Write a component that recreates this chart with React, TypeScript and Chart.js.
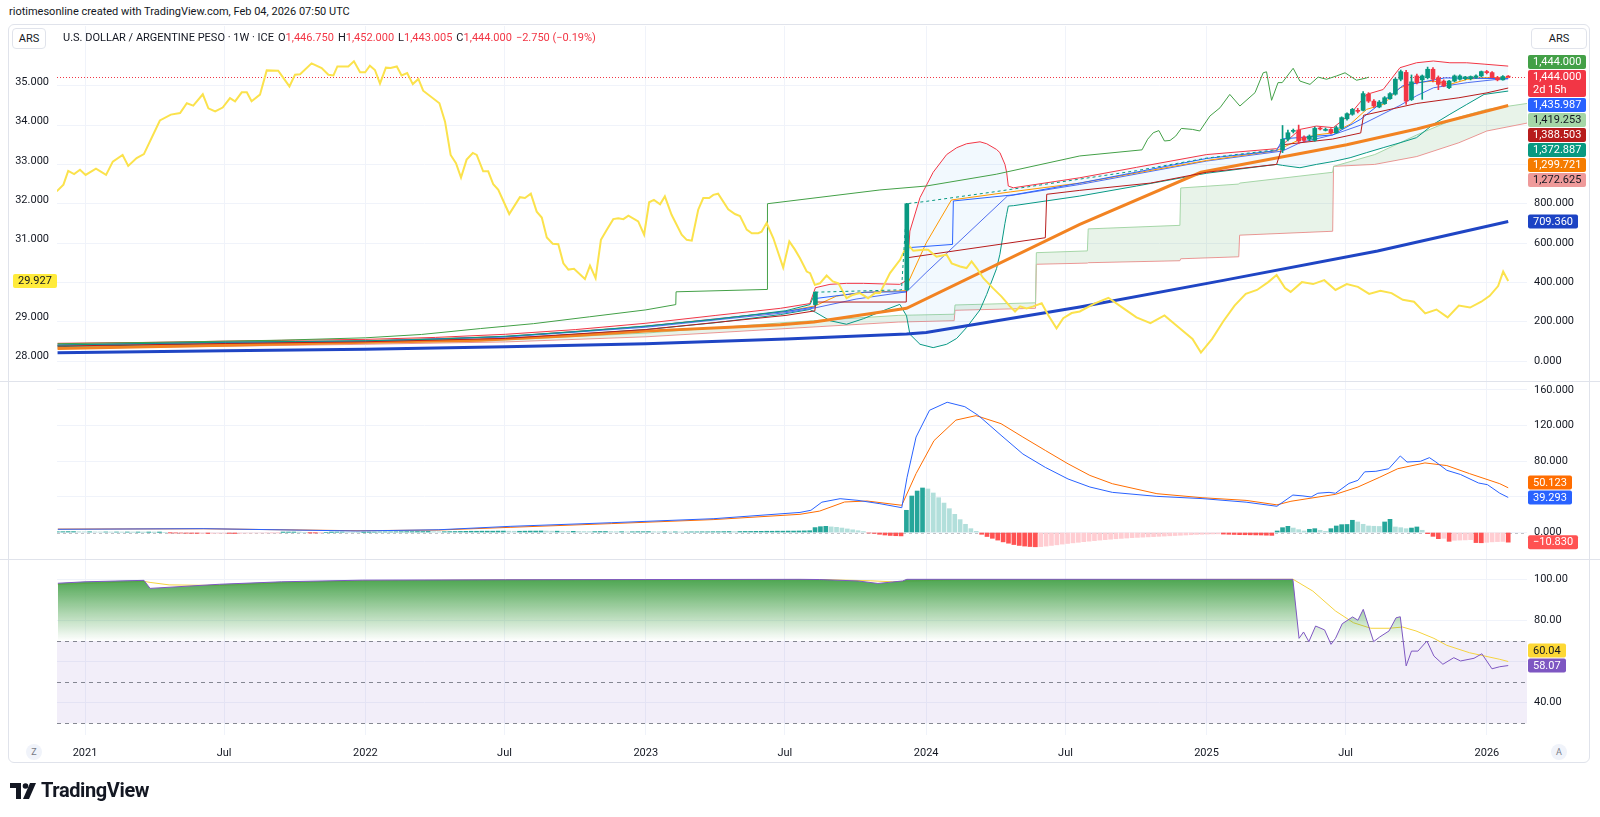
import React, { useEffect, useRef } from "react";
import { Chart, registerables } from "chart.js";

Chart.register(...registerables);

const FONT = "Roboto, 'Liberation Sans', Arial, sans-serif";
const TEXT = "#131722";
const GRID = "#f0f3fa";
const UP = "#089981";
const DOWN = "#f23645";

// ---------- time axis ----------
const X_MIN = 2020.9;
const X_MAX = 2026.143;
const WEEK = 7 / 365.25;
const LAST_WEEK = 2026.076;
const xTickValues = [2021, 2021.496, 2022, 2022.496, 2023, 2023.496, 2024, 2024.497, 2025, 2025.496, 2026];
const xTickLabels = ["2021", "Jul", "2022", "Jul", "2023", "Jul", "2024", "Jul", "2025", "Jul", "2026"];

// ---------- main pane: price candles (weekly, last 43 weeks) ----------
const candleOpen = [1075, 1128, 1168, 1175, 1139, 1128, 1122, 1185, 1178, 1178, 1161, 1183, 1232, 1255, 1274, 1275, 1357, 1322, 1292, 1309, 1334, 1357, 1433, 1468, 1330, 1450, 1430, 1441, 1484, 1441, 1424, 1390, 1424, 1433, 1436, 1436, 1442, 1450, 1472, 1467, 1441, 1430, 1446.75];
const candleHigh = [1198, 1175, 1180, 1200, 1145, 1150, 1190, 1190, 1185, 1182, 1195, 1242, 1262, 1285, 1285, 1370, 1365, 1330, 1325, 1345, 1365, 1440, 1480, 1478, 1455, 1460, 1455, 1495, 1492, 1450, 1430, 1428, 1455, 1455, 1448, 1450, 1455, 1475, 1478, 1472, 1448, 1452, 1452];
const candleLow = [1060, 1120, 1160, 1105, 1115, 1120, 1118, 1175, 1170, 1155, 1158, 1180, 1225, 1250, 1262, 1272, 1315, 1290, 1288, 1305, 1330, 1352, 1425, 1305, 1325, 1410, 1331, 1435, 1420, 1380, 1395, 1385, 1420, 1428, 1430, 1430, 1438, 1445, 1460, 1440, 1425, 1428, 1443.005];
const candleClose = [1128, 1161, 1172, 1119, 1122, 1144, 1183, 1180, 1178, 1161, 1187, 1238, 1258, 1280, 1270, 1360, 1322, 1297, 1317, 1339, 1360, 1433, 1472, 1322, 1420, 1416, 1450, 1484, 1433, 1407, 1399, 1424, 1450, 1450, 1445, 1447, 1450, 1472, 1467, 1441, 1430, 1447, 1444];

// the two devaluation candles
const jumpWeeks = [2023.605, 2023.931];
const jumpOpen = [287, 362];
const jumpHigh = [352, 802];
const jumpLow = [285, 358];
const jumpClose = [350, 800];

// weekly closes before the floating period (tiny candles look like a line)
const closeLine: [number, number][] = [
  [2020.902, 81], [2021.0, 84], [2021.25, 90], [2021.5, 96], [2021.75, 99.5], [2022.0, 103], [2022.25, 111],
  [2022.5, 126], [2022.75, 149], [2023.0, 178], [2023.25, 212], [2023.5, 256], [2023.586, 287], [2023.605, 350],
  [2023.912, 362], [2023.931, 800], [2024.0, 812], [2024.25, 862], [2024.5, 915], [2024.75, 968], [2025.0, 1032], [2025.252, 1075],
];

// yellow overlay series (left scale)
const yellowSeries: [number, number][] = [
  [2020.899, 32.22], [2020.923, 32.39], [2020.94, 32.74], [2020.961, 32.66], [2020.982, 32.77], [2021.002, 32.64], [2021.039, 32.8],
  [2021.075, 32.64], [2021.099, 32.98], [2021.134, 33.15], [2021.154, 32.87], [2021.184, 33.07], [2021.21, 33.17], [2021.267, 34.03],
  [2021.306, 34.18], [2021.339, 34.22], [2021.363, 34.47], [2021.386, 34.41], [2021.42, 34.7], [2021.44, 34.34], [2021.464, 34.26],
  [2021.491, 34.36], [2021.517, 34.6], [2021.535, 34.52], [2021.559, 34.75], [2021.577, 34.75], [2021.594, 34.52], [2021.624, 34.69],
  [2021.648, 35.31], [2021.689, 35.3], [2021.729, 34.9], [2021.749, 35.2], [2021.767, 35.21], [2021.808, 35.49], [2021.844, 35.37],
  [2021.868, 35.2], [2021.886, 35.18], [2021.9, 35.41], [2021.939, 35.41], [2021.959, 35.54], [2021.981, 35.26], [2021.999, 35.26],
  [2022.016, 35.43], [2022.034, 35.32], [2022.052, 34.97], [2022.073, 35.38], [2022.09, 35.37], [2022.112, 35.41], [2022.129, 35.18],
  [2022.149, 35.24], [2022.169, 34.96], [2022.189, 35.09], [2022.206, 34.79], [2022.264, 34.47], [2022.284, 34.0], [2022.304, 33.15],
  [2022.323, 32.94], [2022.341, 32.57], [2022.361, 33.03], [2022.383, 33.2], [2022.397, 33.15], [2022.42, 32.73], [2022.438, 32.73],
  [2022.456, 32.4], [2022.474, 32.26], [2022.513, 31.64], [2022.551, 32.07], [2022.569, 32.05], [2022.59, 32.16], [2022.611, 31.7],
  [2022.629, 31.55], [2022.647, 31.04], [2022.668, 30.88], [2022.688, 30.87], [2022.706, 30.38], [2022.724, 30.22], [2022.744, 30.24],
  [2022.783, 29.98], [2022.801, 30.32], [2022.821, 30.0], [2022.84, 30.98], [2022.861, 31.24], [2022.884, 31.51], [2022.902, 31.53],
  [2022.92, 31.51], [2022.938, 31.6], [2022.973, 31.45], [2022.994, 31.11], [2023.012, 31.94], [2023.029, 32.0], [2023.051, 31.89],
  [2023.068, 32.09], [2023.092, 31.62], [2023.128, 31.11], [2023.146, 30.98], [2023.164, 30.96], [2023.187, 31.75], [2023.205, 32.05],
  [2023.226, 32.05], [2023.241, 32.13], [2023.258, 32.16], [2023.294, 31.76], [2023.318, 31.64], [2023.336, 31.59], [2023.36, 31.24],
  [2023.378, 31.15], [2023.401, 31.15], [2023.413, 31.19], [2023.431, 31.41], [2023.455, 31.02], [2023.49, 30.27], [2023.512, 30.94],
  [2023.532, 30.73], [2023.55, 30.51], [2023.574, 30.17], [2023.586, 30.13], [2023.603, 29.83], [2023.621, 29.87], [2023.645, 30.07],
  [2023.667, 29.92], [2023.687, 29.87], [2023.716, 29.49], [2023.74, 29.58], [2023.764, 29.62], [2023.793, 29.49], [2023.817, 29.62],
  [2023.835, 29.62], [2023.871, 30.13], [2023.907, 30.47], [2023.924, 30.73], [2023.936, 30.85], [2023.954, 30.7], [2023.99, 30.73],
  [2024.007, 30.73], [2024.037, 30.55], [2024.073, 30.6], [2024.091, 30.38], [2024.121, 30.3], [2024.144, 30.26], [2024.162, 30.43],
  [2024.18, 30.26], [2024.204, 30.0], [2024.239, 29.74], [2024.269, 29.53], [2024.299, 29.28], [2024.317, 29.15], [2024.335, 29.28],
  [2024.358, 29.23], [2024.382, 29.28], [2024.412, 29.36], [2024.435, 29.06], [2024.465, 28.72], [2024.489, 28.98], [2024.519, 29.11],
  [2024.548, 29.15], [2024.6, 29.35], [2024.65, 29.5], [2024.7, 29.25], [2024.75, 29.0], [2024.8, 28.85], [2024.85, 29.05],
  [2024.9, 28.75], [2024.95, 28.45], [2024.98, 28.1], [2025.02, 28.45], [2025.06, 28.9], [2025.1, 29.3], [2025.14, 29.6],
  [2025.18, 29.7], [2025.22, 29.9], [2025.25, 30.08], [2025.28, 29.75], [2025.3, 29.65], [2025.34, 29.9], [2025.38, 29.85],
  [2025.42, 29.95], [2025.46, 29.7], [2025.5, 29.85], [2025.54, 29.78], [2025.58, 29.6], [2025.62, 29.68], [2025.66, 29.62],
  [2025.7, 29.45], [2025.74, 29.4], [2025.78, 29.1], [2025.82, 29.2], [2025.86, 29.0], [2025.9, 29.3], [2025.94, 29.25],
  [2025.98, 29.4], [2026.01, 29.55], [2026.04, 29.8], [2026.058, 30.17], [2026.076, 29.927],
];

// moving averages
const sma200: [number, number][] = [
  [2020.902, 42], [2021.5, 52], [2022.0, 60], [2022.5, 72], [2023.0, 88], [2023.5, 112], [2023.93, 137], [2024.0, 145],
  [2024.548, 275], [2025.06, 410], [2025.61, 560], [2026.076, 709.36],
];
const sma50: [number, number][] = [
  [2020.902, 63], [2021.5, 80], [2022.0, 95], [2022.41, 105], [2022.75, 130], [2023.0, 152], [2023.3, 172], [2023.48, 185],
  [2023.6, 198], [2023.93, 268], [2024.548, 695], [2024.98, 960], [2025.5, 1100], [2025.75, 1180], [2026.076, 1299.72],
];
const emaFast: [number, number][] = [
  [2020.902, 81], [2021.5, 95], [2022.0, 103], [2022.5, 125], [2023.0, 177], [2023.5, 252], [2023.603, 280], [2023.68, 330],
  [2023.77, 348], [2023.93, 358], [2023.936, 400], [2024.0, 600], [2024.09, 819], [2024.3, 860], [2024.548, 905], [2025.0, 1020],
  [2025.25, 1070], [2025.271, 1085], [2025.333, 1127], [2025.39, 1150], [2025.45, 1160], [2025.512, 1204], [2025.571, 1280],
  [2025.63, 1305], [2025.69, 1390], [2025.749, 1416], [2025.809, 1424], [2025.868, 1407], [2025.93, 1433], [2025.99, 1441], [2026.076, 1441],
];

// Ichimoku lines
const tenkan: [number, number][] = [
  [2020.902, 81], [2021.5, 95], [2022.0, 102], [2022.5, 124], [2023.0, 176], [2023.5, 252], [2023.603, 275], [2023.606, 318],
  [2023.78, 350], [2023.929, 352], [2023.932, 576], [2024.094, 593], [2024.097, 814], [2024.31, 845], [2024.548, 905], [2025.0, 1030],
  [2025.25, 1070], [2025.272, 1130], [2025.45, 1150], [2025.55, 1230], [2025.7, 1400], [2025.85, 1440], [2026.076, 1436],
];
const kijun: [number, number][] = [
  [2020.902, 76], [2021.5, 89], [2022.0, 98], [2022.5, 115], [2023.0, 160], [2023.5, 232], [2023.603, 255], [2023.606, 300],
  [2023.929, 300], [2023.932, 525], [2024.425, 627], [2024.43, 848], [2024.548, 868], [2024.8, 905], [2025.0, 960], [2025.25, 1000],
  [2025.272, 1100], [2025.45, 1129], [2025.55, 1160], [2025.56, 1250], [2025.75, 1310], [2025.9, 1339], [2026.0, 1364], [2026.076, 1388.5],
];
const chikou: [number, number][] = [
  [2020.902, 88], [2021.3, 96], [2021.7, 106], [2022.0, 118], [2022.2, 135], [2022.41, 165], [2022.6, 190], [2022.8, 225],
  [2023.0, 260], [2023.107, 287], [2023.108, 352], [2023.433, 364], [2023.434, 800], [2023.835, 870], [2024.0, 890], [2024.25, 950],
  [2024.548, 1043], [2024.77, 1074], [2024.79, 1128], [2024.81, 1161], [2024.83, 1172], [2024.85, 1119], [2024.87, 1122],
  [2024.89, 1144], [2024.91, 1183], [2024.95, 1178], [2024.976, 1170], [2025.012, 1246], [2025.048, 1288], [2025.083, 1356],
  [2025.119, 1297], [2025.173, 1365], [2025.202, 1466], [2025.214, 1471], [2025.232, 1326], [2025.255, 1416], [2025.27, 1416],
  [2025.309, 1489], [2025.333, 1424], [2025.369, 1407], [2025.398, 1444], [2025.428, 1433], [2025.464, 1450], [2025.494, 1466],
  [2025.535, 1428], [2025.571, 1440], [2025.578, 1444],
];
const cloudX = [2020.902, 2021.5, 2022.0, 2022.5, 2023.0, 2023.5, 2023.9, 2024.1, 2024.103, 2024.39, 2024.393, 2024.575, 2024.578, 2024.905, 2024.908, 2025.115, 2025.118, 2025.45, 2025.453, 2025.6, 2025.75, 2025.9, 2026.0, 2026.143];
const senkouA = [70, 83, 92, 108, 142, 196, 232, 238, 285, 296, 551, 560, 672, 690, 880, 900, 905, 960, 990, 1050, 1150, 1240, 1280, 1310];
const senkouB = [64, 75, 85, 97, 123, 165, 198, 205, 258, 268, 492, 498, 500, 510, 520, 530, 640, 660, 990, 1000, 1040, 1110, 1170, 1210];

// Bollinger bands
const bbX = [2020.902, 2021.25, 2021.5, 2021.75, 2022.0, 2022.25, 2022.5, 2022.75, 2023.0, 2023.25, 2023.48, 2023.585, 2023.605, 2023.657, 2023.716, 2023.776, 2023.85, 2023.906, 2023.93, 2023.942, 2023.978, 2024.025, 2024.073, 2024.109, 2024.144, 2024.192, 2024.216, 2024.251, 2024.263, 2024.281, 2024.287, 2024.293, 2024.311, 2024.548, 2024.75, 2025.0, 2025.25, 2025.271, 2025.333, 2025.392, 2025.452, 2025.512, 2025.571, 2025.63, 2025.69, 2025.749, 2025.809, 2025.868, 2025.928, 2025.99, 2026.076];
const bbUpper = [90, 95, 101, 106, 110, 120, 136, 160, 192, 232, 268, 292, 373, 390, 395, 395, 392, 390, 410, 661, 831, 960, 1050, 1085, 1105, 1115, 1105, 1076, 1060, 1000, 960, 890, 881, 932, 985, 1050, 1080, 1100, 1178, 1195, 1187, 1255, 1356, 1381, 1492, 1517, 1526, 1517, 1517, 1510, 1500];
const bbLower = [73, 82, 88, 94, 98, 105, 114, 136, 160, 195, 236, 262, 248, 205, 187, 215, 258, 288, 230, 136, 85, 68, 85, 115, 170, 260, 339, 470, 543, 700, 746, 788, 790, 839, 890, 955, 1000, 995, 983, 1000, 1015, 1034, 1060, 1085, 1110, 1136, 1204, 1255, 1305, 1356, 1373];
const bbBasis: [number, number][] = [
  [2020.902, 80], [2021.5, 93], [2022.0, 101], [2022.5, 122], [2023.0, 172], [2023.5, 246], [2023.603, 270], [2023.75, 315],
  [2023.93, 352], [2024.0, 450], [2024.29, 839], [2024.548, 898], [2025.0, 1017], [2025.271, 1068], [2025.333, 1110], [2025.45, 1150],
  [2025.55, 1200], [2025.69, 1300], [2025.75, 1350], [2025.81, 1390], [2025.93, 1416], [2026.04, 1433], [2026.076, 1436],
];

// ---------- MACD pane ----------
const macdLine: [number, number][] = [
  [2020.903, 3.6], [2021.424, 4.3], [2021.97, 1.7], [2022.262, 3.1], [2022.516, 6.9], [2022.879, 11], [2023.243, 15.5], [2023.55, 22.5],
  [2023.589, 24.9], [2023.628, 34], [2023.693, 37.9], [2023.757, 36], [2023.835, 32.3], [2023.913, 27.8], [2023.932, 62], [2023.964, 107],
  [2024.012, 137], [2024.075, 146], [2024.138, 141], [2024.187, 131], [2024.267, 109], [2024.345, 88], [2024.425, 73], [2024.506, 60],
  [2024.584, 51], [2024.664, 45], [2024.823, 40.5], [2024.984, 38], [2025.141, 34], [2025.251, 29.4], [2025.308, 42], [2025.344, 41],
  [2025.373, 39.8], [2025.397, 44], [2025.437, 45], [2025.46, 44], [2025.508, 55], [2025.54, 58.5], [2025.564, 68], [2025.604, 68.6],
  [2025.65, 71.5], [2025.691, 85.8], [2025.715, 79], [2025.763, 79.8], [2025.795, 83.9], [2025.818, 79], [2025.857, 69.7], [2025.906, 65],
  [2025.97, 55.5], [2026.002, 53.6], [2026.046, 44], [2026.076, 39.293],
];
const signalLine: [number, number][] = [
  [2020.903, 3.8], [2021.424, 4.2], [2021.97, 2.0], [2022.262, 2.8], [2022.516, 5.8], [2022.879, 10], [2023.243, 14.5], [2023.55, 20.4],
  [2023.62, 24], [2023.709, 34.2], [2023.789, 35.3], [2023.913, 30.5], [2023.964, 66], [2024.028, 103], [2024.106, 126], [2024.178, 131],
  [2024.267, 122], [2024.345, 107], [2024.425, 92], [2024.506, 77], [2024.584, 64], [2024.664, 54.7], [2024.823, 43.5], [2024.984, 39],
  [2025.141, 36], [2025.251, 31], [2025.301, 35], [2025.46, 42.8], [2025.54, 51], [2025.618, 62], [2025.682, 71.5], [2025.779, 78],
  [2025.857, 75], [2025.938, 66], [2026.046, 54.7], [2026.076, 50.123],
];
const histEarly = [
  0.8, 0.9, 1.0, 1.0, 0.9, 0.8, 0.8, 0.7, 0.6, 0.6, 0.5, 0.5, 0.4, 0.4, 0.3, 0.3, 0.2, 0.2, 0.1, 0.1, 0.0,
  -0.2, -0.4, -0.6, -0.8, -0.9, -1.0, -1.0, -1.1, -1.0, -0.9, -0.9, -1.0, -1.1, -1.0, -0.8, -0.7, -0.6, -0.5, -0.3, -0.2,
  -0.1, 0.1, 0.2, 0.2, 0.1, 0.0, -0.1, -0.2, -0.1, 0.0, 0.1, 0.3, 0.4, 0.3, 0.2, 0.1, 0.1, 0.2, 0.4, 0.6, 0.7, 0.7,
  0.8, 0.9, 1.0, 1.0, 1.1, 1.1, 1.2, 1.0, 0.9, 0.9, 1.0, 1.1, 1.2,
  1.3, 1.4, 1.4, 1.5, 1.5, 1.5, 1.6, 1.6, 1.5, 1.4, 1.4, 1.5, 1.6, 1.6, 1.7, 1.6, 1.5, 1.5, 1.4, 1.3, 1.3, 1.2, 1.1,
  1.0, 1.0, 1.1, 1.1, 1.0, 0.9, 0.9, 0.8, 0.8, 0.9, 0.9, 1.0, 0.9, 0.8, 0.8, 0.7, 0.7,
  0.6, 0.6, 0.7, 0.7, 0.8, 0.8, 0.9, 0.9, 1.0, 1.1,
  1.0, 1.1, 1.2, 1.2, 1.3, 1.3, 1.4, 1.4, 1.5, 1.5, 1.6, 1.6,
];
const histLate = [
  1.7, 1.8, 2.0,
  5.5, 6.5, 6.9, 6.3, 5.8, 5.0, 4.0, 3.0, 2.0, 1.0, -0.5, -1.0, -2.0, -2.8, -3.3, -3.6, -3.8,
  24.9, 40.9, 46.5, 49.9, 48.8, 44.3, 39.0, 33.0, 26.7, 20.4, 14.4, 9.2, 4.3, 1.3,
  -2.0, -4.5, -6.5, -8.5, -10.5, -12.0, -13.5, -14.5, -15.2, -15.7, -16.0,
  -15.8, -15.2, -14.5, -13.8, -13.0, -12.3, -11.6, -11.0, -10.3, -9.7, -9.1, -8.5, -8.0, -7.5, -7.0, -6.6, -6.2, -5.8, -5.5, -5.2,
  -4.9, -4.6, -4.3, -4.0, -3.7, -3.4, -3.1, -2.8, -2.5, -2.2, -2.0, -1.8, -1.6, -1.5, -1.8, -2.0, -2.2, -2.4, -2.5, -2.6, -2.7, -2.8, -3.0, -3.2,
  1.7, 5.4, 6.9, 5.0, 3.2, 1.7, 3.6, 4.3, 2.5, 1.3, 4.3, 7.3, 8.8, 9.0, 13.7, 11.8, 9.2, 7.3, 7.0, 6.8, 11.8, 14.8,
  6.2, 5.4, 4.3, 5.0, 6.2, 2.5, -1.3, -4.3, -6.9, -6.5, -9.9, -8.7, -8.5, -8.3, -8.0, -11.3, -11.5, -11.0, -10.5, -10.2, -10.0, -10.83,
];

// ---------- RSI pane ----------
const rsiLine: [number, number][] = [
  [2020.903, 98.1], [2021.0, 98.8], [2021.21, 99.5], [2021.232, 95.6], [2021.48, 97.6], [2021.7, 98.8], [2021.99, 99.6], [2022.5, 99.8],
  [2023.0, 99.9], [2023.55, 100], [2023.62, 99.9], [2023.757, 99.2], [2023.828, 98.0], [2023.916, 99.2], [2023.931, 100], [2025.308, 100],
  [2025.33, 71.3], [2025.346, 74.4], [2025.365, 69.7], [2025.389, 77.3], [2025.421, 75.4], [2025.444, 68.4], [2025.46, 71.3],
  [2025.484, 78.4], [2025.521, 81.7], [2025.54, 80.1], [2025.559, 85.4], [2025.596, 69.7], [2025.618, 72.0], [2025.651, 74.9],
  [2025.676, 81.3], [2025.691, 81.8], [2025.712, 57.9], [2025.731, 65.1], [2025.754, 65.1], [2025.786, 70.0], [2025.811, 62.7],
  [2025.843, 58.7], [2025.882, 61.9], [2025.906, 60.3], [2025.954, 61.6], [2025.982, 63.8], [2026.018, 56.5], [2026.046, 57.5], [2026.076, 58.07],
];
const rsiMA: [number, number][] = [
  [2020.903, 97.5], [2021.21, 99.0], [2021.232, 98.5], [2021.3, 97.3], [2021.48, 97.0], [2021.7, 98.2], [2021.99, 99.3], [2022.5, 99.7],
  [2023.0, 99.8], [2023.62, 99.9], [2023.8, 99.3], [2023.88, 98.8], [2023.95, 99.2], [2024.1, 99.8], [2025.309, 100], [2025.379, 94.3],
  [2025.46, 84.6], [2025.524, 78.9], [2025.586, 76.2], [2025.651, 76.2], [2025.699, 76.8], [2025.747, 74.9], [2025.811, 71.3],
  [2025.857, 67.9], [2025.938, 64.3], [2026.046, 61.1], [2026.076, 60.04],
];

// ---------- price tags ----------
type Tag = { value: number; label: string; sub?: string; bg: string; fg: string };
const mainTags: Tag[] = [
  { value: 1444.0, label: "1,444.000", bg: "#43a047", fg: "#ffffff" },
  { value: 1444.0, label: "1,444.000", sub: "2d 15h", bg: "#f23645", fg: "#ffffff" },
  { value: 1435.987, label: "1,435.987", bg: "#2962ff", fg: "#ffffff" },
  { value: 1419.253, label: "1,419.253", bg: "#a5d6a7", fg: "#131722" },
  { value: 1388.503, label: "1,388.503", bg: "#b71c1c", fg: "#ffffff" },
  { value: 1372.887, label: "1,372.887", bg: "#089981", fg: "#ffffff" },
  { value: 1299.721, label: "1,299.721", bg: "#f57c00", fg: "#ffffff" },
  { value: 1272.625, label: "1,272.625", bg: "#ef9a9a", fg: "#131722" },
  { value: 709.36, label: "709.360", bg: "#1c43c4", fg: "#ffffff" },
];
const leftTags: Tag[] = [{ value: 29.927, label: "29.927", bg: "#ffeb3b", fg: "#131722" }];
const macdTags: Tag[] = [
  { value: 50.123, label: "50.123", bg: "#ff6d00", fg: "#ffffff" },
  { value: 39.293, label: "39.293", bg: "#2962ff", fg: "#ffffff" },
  { value: -10.83, label: "\u221210.830", bg: "#ff5252", fg: "#ffffff" },
];
const rsiTags: Tag[] = [
  { value: 60.04, label: "60.04", bg: "#fdd835", fg: "#131722" },
  { value: 58.07, label: "58.07", bg: "#7e57c2", fg: "#ffffff" },
];

// ---------- helpers ----------
const pts = (a: [number, number][]) => a.map(([x, y]) => ({ x, y }));
const zip = (xs: number[], ys: number[]) => xs.map((x, i) => ({ x, y: ys[i] }));
const weekAt = (i: number, n: number) => LAST_WEEK - (n - 1 - i) * WEEK;

function tagPlugin(id: string, axisId: string, tags: Tag[], anchor: number, side: "right" | "left") {
  return {
    id,
    afterDraw(chart: any) {
      const ctx = chart.ctx;
      const sc = chart.scales[axisId];
      const area = chart.chartArea;
      const H = 14;
      const GAP = 1;
      ctx.save();
      ctx.font = `11px ${FONT}`;
      const hs = tags.map((t) => (t.sub ? 27 : H));
      const tops = tags.map((t) => sc.getPixelForValue(t.value) - H / 2);
      for (let i = anchor - 1; i >= 0; i--) {
        const lim = tops[i + 1] - GAP - hs[i];
        if (tops[i] > lim) tops[i] = lim;
      }
      for (let i = anchor + 1; i < tags.length; i++) {
        const lim = tops[i - 1] + hs[i - 1] + GAP;
        if (tops[i] < lim) tops[i] = lim;
      }
      tags.forEach((t, i) => {
        const tw = Math.max(ctx.measureText(t.label).width, t.sub ? ctx.measureText(t.sub).width : 0);
        const w = Math.round(tw + 10);
        const x = side === "right" ? area.right + 1 : area.left - w;
        ctx.fillStyle = t.bg;
        ctx.beginPath();
        (ctx as any).roundRect(x, tops[i], w, hs[i], 2);
        ctx.fill();
        ctx.fillStyle = t.fg;
        ctx.textBaseline = "middle";
        ctx.textAlign = "left";
        ctx.fillText(t.label, x + 5, tops[i] + H / 2 + 0.5);
        if (t.sub) ctx.fillText(t.sub, x + 5, tops[i] + H / 2 + 13.5);
      });
      ctx.restore();
    },
  };
}

const noPad = (s: any) => {
  s.paddingTop = 0;
  s.paddingBottom = 0;
  s.paddingLeft = 0;
  s.paddingRight = 0;
};

function xScale(show: boolean): any {
  return {
    type: "linear",
    min: X_MIN,
    max: X_MAX,
    offset: false,
    grid: { color: GRID, drawTicks: false, offset: false },
    border: { display: false },
    ticks: {
      display: show,
      color: TEXT,
      font: { family: FONT, size: 11 },
      padding: 12,
      maxRotation: 0,
      autoSkip: false,
      callback: (_v: any, i: number) => xTickLabels[i],
    },
    afterBuildTicks: (s: any) => {
      s.ticks = xTickValues.map((v) => ({ value: v }));
    },
    afterFit: (s: any) => {
      s.height = show ? 28 : 0;
      noPad(s);
    },
  };
}

function yRight(min: number, max: number, ticks: number[], fmt: (v: number) => string): any {
  return {
    type: "linear",
    position: "right",
    min,
    max,
    grid: { color: GRID, drawTicks: false },
    border: { display: false },
    ticks: { color: TEXT, font: { family: FONT, size: 11 }, padding: 7, callback: (v: number) => fmt(v) },
    afterBuildTicks: (s: any) => {
      s.ticks = ticks.map((v) => ({ value: v }));
    },
    afterFit: (s: any) => {
      s.width = 73;
      noPad(s);
    },
  };
}

const baseOptions = (padLeft: number): any => ({
  responsive: false,
  animation: false,
  devicePixelRatio: 1,
  events: [],
  layout: { padding: { left: padLeft, right: 0, top: 0, bottom: 0 } },
  plugins: { legend: { display: false }, tooltip: { enabled: false } },
});

const line = (data: any[], color: string, width: number, order: number, extra: any = {}) => ({
  type: "line",
  data,
  borderColor: color,
  backgroundColor: color,
  borderWidth: width,
  pointRadius: 0,
  tension: 0,
  order,
  yAxisID: "yR",
  ...extra,
});

function mainConfig(): any {
  const n = candleOpen.length;
  const cx = candleOpen.map((_, i) => weekAt(i, n));
  const cColors = candleOpen.map((o, i) => (candleClose[i] >= o ? UP : DOWN));
  const jColors = jumpOpen.map((o, i) => (jumpClose[i] >= o ? UP : DOWN));
  const lastClose = candleClose[n - 1];
  return {
    type: "line",
    data: {
      datasets: [
        {
          type: "bar", order: 0, yAxisID: "yR", grouped: false, barThickness: 4, minBarLength: 1, borderWidth: 0,
          data: cx.map((x, i) => ({ x, y: [candleOpen[i], candleClose[i]] })), backgroundColor: cColors,
        },
        {
          type: "bar", order: 1, yAxisID: "yR", grouped: false, barThickness: 1, borderWidth: 0,
          data: cx.map((x, i) => ({ x, y: [candleLow[i], candleHigh[i]] })), backgroundColor: cColors,
        },
        {
          type: "bar", order: 0, yAxisID: "yR", grouped: false, barThickness: 4, borderWidth: 0,
          data: jumpWeeks.map((x, i) => ({ x, y: [jumpOpen[i], jumpClose[i]] })), backgroundColor: jColors,
        },
        {
          type: "bar", order: 1, yAxisID: "yR", grouped: false, barThickness: 1, borderWidth: 0,
          data: jumpWeeks.map((x, i) => ({ x, y: [jumpLow[i], jumpHigh[i]] })), backgroundColor: jColors,
        },
        line(pts(closeLine), UP, 1, 2, {
          segment: { borderDash: (c: any) => (c.p0.parsed.x >= 2023.6 ? [3, 3] : undefined) },
        }),
        line(pts(yellowSeries), "#fbe24c", 2, 3, { yAxisID: "yL" }),
        line(pts(chikou), "#43a047", 1, 4),
        line(pts(kijun), "#b71c1c", 1, 5),
        line(pts(tenkan), "#2962ff", 1, 6),
        line(pts(emaFast), "#ff9800", 1, 7),
        line(pts(bbBasis), "#4f6ef0", 1, 8),
        line(zip(bbX, bbUpper), "#f23645", 1, 9, { fill: { target: "+1", above: "rgba(33,150,243,0.06)", below: "rgba(33,150,243,0.06)" } }),
        line(zip(bbX, bbLower), "#089981", 1, 10),
        line(zip(cloudX, senkouA), "#a5d6a7", 1, 11, { fill: { target: "+1", above: "rgba(67,160,71,0.12)", below: "rgba(244,67,54,0.12)" } }),
        line(zip(cloudX, senkouB), "#ef9a9a", 1, 12),
        line(pts(sma50), "#f28322", 3, 8),
        line(pts(sma200), "#1f45c4", 3, 8),
      ],
    },
    options: {
      ...baseOptions(0),
      scales: {
        x: xScale(false),
        yR: yRight(-101.7, 1704.0, [0, 200, 400, 600, 800, 1000, 1200, 1400], (v) => (v <= 800 ? v.toFixed(3) : "")),
        yL: {
          type: "linear",
          position: "left",
          min: 27.374,
          max: 36.444,
          grid: { display: false, drawTicks: false },
          border: { display: false },
          ticks: { color: TEXT, font: { family: FONT, size: 11 }, padding: 8, callback: (v: number) => (v === 30 ? "" : v.toFixed(3)) },
          afterBuildTicks: (s: any) => {
            s.ticks = [28, 29, 30, 31, 32, 33, 34, 35].map((v) => ({ value: v }));
          },
          afterFit: (s: any) => {
            s.width = 57;
            noPad(s);
          },
        },
      },
    },
    plugins: [
      {
        id: "lastPriceLine",
        beforeDatasetsDraw(chart: any) {
          const { ctx, chartArea } = chart;
          const y = Math.round(chart.scales.yR.getPixelForValue(lastClose)) + 0.5;
          ctx.save();
          ctx.strokeStyle = DOWN;
          ctx.lineWidth = 1;
          ctx.setLineDash([1, 2]);
          ctx.beginPath();
          ctx.moveTo(chartArea.left, y);
          ctx.lineTo(chartArea.right, y);
          ctx.stroke();
          ctx.restore();
        },
      },
      tagPlugin("mainTags", "yR", mainTags, 1, "right"),
      tagPlugin("leftTags", "yL", leftTags, 0, "left"),
    ],
  };
}

function macdConfig(): any {
  const hist = [...histEarly, ...histLate];
  const n = hist.length;
  const colors = hist.map((v, i) => {
    const prev = i > 0 ? hist[i - 1] : v;
    if (v >= 0) return v >= prev ? "#26a69a" : "#b2dfdb";
    return v < prev ? "#ff5252" : "#ffcdd2";
  });
  return {
    type: "line",
    data: {
      datasets: [
        line(pts(macdLine), "#2962ff", 1, 0),
        line(pts(signalLine), "#ff6d00", 1, 1),
        {
          type: "bar", order: 2, yAxisID: "yR", grouped: false, barThickness: 4, borderWidth: 0,
          data: hist.map((v, i) => ({ x: weekAt(i, n), y: v })), backgroundColor: colors,
        },
      ],
    },
    options: {
      ...baseOptions(57),
      scales: {
        x: xScale(false),
        yR: yRight(-29.7, 168.7, [0, 40, 80, 120, 160], (v) => (v === 40 ? "" : v.toFixed(3))),
      },
    },
    plugins: [
      {
        id: "zeroLine",
        beforeDatasetsDraw(chart: any) {
          const { ctx, chartArea } = chart;
          const y = Math.round(chart.scales.yR.getPixelForValue(0)) + 0.5;
          ctx.save();
          ctx.strokeStyle = "rgba(120,123,134,0.45)";
          ctx.setLineDash([3, 3]);
          ctx.beginPath();
          ctx.moveTo(chartArea.left, y);
          ctx.lineTo(chartArea.right, y);
          ctx.stroke();
          ctx.restore();
        },
      },
      tagPlugin("macdTags", "yR", macdTags, 1, "right"),
    ],
  };
}

function rsiConfig(canvas: HTMLCanvasElement): any {
  const g = canvas.getContext("2d")!.createLinearGradient(0, 19, 0, 81);
  g.addColorStop(0, "rgba(67,160,71,0.95)");
  g.addColorStop(1, "rgba(67,160,71,0)");
  return {
    type: "line",
    data: {
      datasets: [
        line(pts(rsiMA), "#f5d33f", 1, 1),
        line(pts(rsiLine), "#7e57c2", 1, 0, { fill: { target: { value: 70 }, above: g, below: "rgba(0,0,0,0)" } }),
      ],
    },
    options: {
      ...baseOptions(57),
      scales: {
        x: xScale(true),
        yR: yRight(24.3, 109.4, [40, 60, 80, 100], (v) => (v === 60 ? "" : v.toFixed(2))),
      },
    },
    plugins: [
      {
        id: "rsiBand",
        beforeDatasetsDraw(chart: any) {
          const { ctx, chartArea } = chart;
          const sc = chart.scales.yR;
          const y70 = sc.getPixelForValue(70);
          const y30 = sc.getPixelForValue(30);
          ctx.save();
          ctx.fillStyle = "rgba(126,87,194,0.1)";
          ctx.fillRect(chartArea.left, y70, chartArea.right - chartArea.left, y30 - y70);
          ctx.strokeStyle = "rgba(120,123,134,0.9)";
          ctx.lineWidth = 1;
          ctx.setLineDash([4, 4]);
          [70, 50, 30].forEach((v) => {
            const y = Math.round(sc.getPixelForValue(v)) + 0.5;
            ctx.beginPath();
            ctx.moveTo(chartArea.left, y);
            ctx.lineTo(chartArea.right, y);
            ctx.stroke();
          });
          ctx.restore();
        },
      },
      tagPlugin("rsiTags", "yR", rsiTags, 1, "right"),
    ],
  };
}

const abs = (l: number, t: number, extra: any = {}): React.CSSProperties => ({ position: "absolute", left: l, top: t, ...extra });

export default function App() {
  const mainRef = useRef<HTMLCanvasElement>(null);
  const macdRef = useRef<HTMLCanvasElement>(null);
  const rsiRef = useRef<HTMLCanvasElement>(null);

  useEffect(() => {
    const charts: Chart[] = [];
    charts.push(new Chart(mainRef.current!, mainConfig()));
    charts.push(new Chart(macdRef.current!, macdConfig()));
    charts.push(new Chart(rsiRef.current!, rsiConfig(rsiRef.current!)));
    return () => charts.forEach((c) => c.destroy());
  }, []);

  const red = { color: "#f23645" };
  const gap = { marginLeft: 4 };
  return (
    <div style={{ position: "fixed", left: 0, top: 0, width: 1600, height: 817, background: "#fff", fontFamily: FONT, color: TEXT, overflow: "hidden" }}>
      <div style={abs(9, 5, { fontSize: 11, whiteSpace: "nowrap" })}>riotimesonline created with TradingView.com, Feb 04, 2026 07:50 UTC</div>
      <div style={abs(8, 24, { width: 1580, height: 737, border: "1px solid #e0e3eb", borderRadius: 6 })} />
      <div style={abs(0, 381, { width: 1600, height: 1, background: "#e0e3eb" })} />
      <div style={abs(0, 559, { width: 1600, height: 1, background: "#e0e3eb" })} />
      <canvas ref={mainRef} width={1600} height={355} style={abs(0, 26, { width: 1600, height: 355 })} />
      <canvas ref={macdRef} width={1600} height={177} style={abs(0, 382, { width: 1600, height: 177 })} />
      <canvas ref={rsiRef} width={1600} height={203} style={abs(0, 560, { width: 1600, height: 203 })} />
      <div style={abs(12, 28, { width: 32, height: 19, border: "1px solid #e0e3eb", borderRadius: 4, fontSize: 11, lineHeight: "19px", textAlign: "center", background: "#fff" })}>ARS</div>
      <div style={abs(63, 31, { fontSize: 11, whiteSpace: "nowrap" })}>
        <span>U.S. DOLLAR / ARGENTINE PESO · 1W · ICE</span>
        <span style={gap}>O</span><span style={red}>1,446.750</span>
        <span style={gap}>H</span><span style={red}>1,452.000</span>
        <span style={gap}>L</span><span style={red}>1,443.005</span>
        <span style={gap}>C</span><span style={red}>1,444.000</span>
        <span style={{ ...red, ...gap }}>−2.750 (−0.19%)</span>
      </div>
      <div style={abs(1531, 28, { width: 54, height: 19, border: "1px solid #e0e3eb", borderRadius: 4, fontSize: 11, lineHeight: "19px", textAlign: "center", background: "#fff" })}>ARS</div>
      <div style={abs(26, 744, { width: 16, height: 16, borderRadius: 8, background: "#f0f3fa", fontSize: 9, lineHeight: "16px", textAlign: "center", color: "#787b86" })}>Z</div>
      <div style={abs(1551, 744, { width: 16, height: 16, borderRadius: 8, background: "#f0f3fa", fontSize: 9, lineHeight: "16px", textAlign: "center", color: "#787b86" })}>A</div>
      <svg style={abs(10, 783)} width={30} height={16} viewBox="0 0 30 16">
        <path d="M0 0 H11 V16 H6 V5 H0 Z" fill="#131722" />
        <circle cx="15.5" cy="3" r="2.8" fill="#131722" />
        <path d="M20 0 H26 L19 16 H13 Z" fill="#131722" />
      </svg>
      <div style={abs(41, 778, { fontSize: 20, fontWeight: 700, letterSpacing: -0.4 })}>TradingView</div>
    </div>
  );
}
